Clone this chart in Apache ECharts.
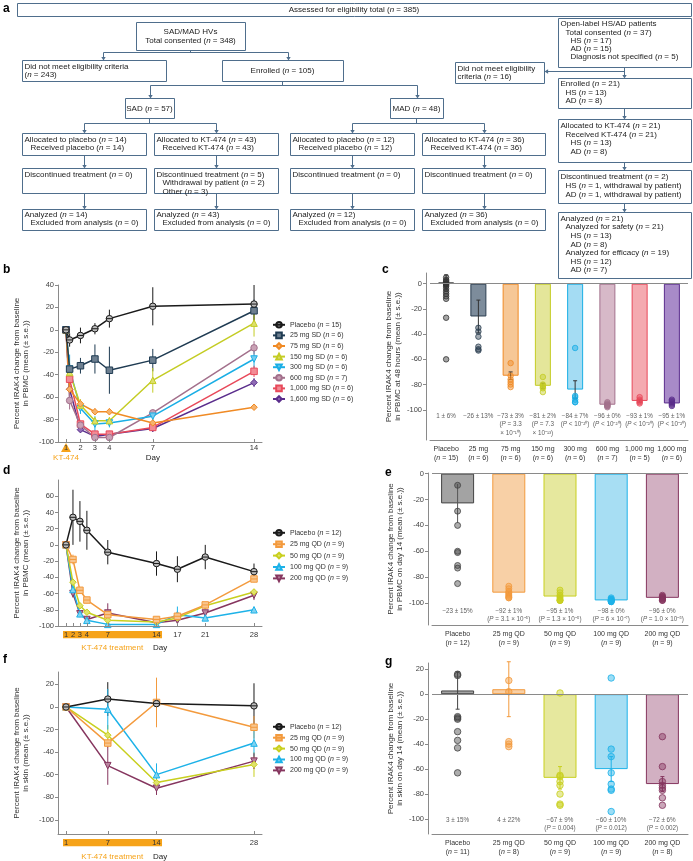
<!DOCTYPE html>
<html>
<head>
<meta charset="utf-8">
<script src="https://cdn.jsdelivr.net/npm/echarts@6.0.0/dist/echarts.min.js"></script>
<style>
html,body{margin:0;padding:0;background:#ffffff;}
#chart{width:693px;height:861px;}
</style>
</head>
<body>
<div id="chart"></div>
<script>
// ================= DATA =================
// Panel b: single dose, PBMC (day 1 = dosing)
const bDays = [1, 1.25, 2, 3, 4, 7, 14];
const bTicks = [1, 2, 3, 4, 7, 14];
const bNames = ['Placebo (n = 15)', '25 mg SD (n = 6)', '75 mg SD (n = 6)', '150 mg SD (n = 6)', '300 mg SD (n = 6)', '600 mg SD (n = 7)', '1,000 mg SD (n = 6)', '1,600 mg SD (n = 6)'];
const bPlacebo = [0, -9, -5, 1, 10, 21, 23];
const bPlaceboSE = [0, 6, 7, 5, 8, 17, 17];
const b25 = [0, -35, -32, -26, -36, -27, 17];
const b25SE = [0, 5, 7, 13, 21, 10, 10];
const b75 = [0, -53, -66, -73, -73, -83, -69];
const b75SE = [0, 4, 4, 3, 3, 3, 2];
const b150 = [0, -38, -67, -81, -81, -45, 6];
const b150SE = [0, 6, 5, 2, 3, 11, 12];
const b300 = [0, -35, -70, -84, -83, -77, -26];
const b300SE = [0, 13, 5, 7, 4, 4, 8];
const b600 = [0, -63, -85, -96, -96, -74, -16];
const b600SE = [0, 8, 3, 0, 2, 3, 6];
const b1000 = [0, -44, -84, -93, -93, -87, -37];
const b1000SE = [0, 4, 2, 1, 1, 2, 5];
const b1600 = [0, -53, -89, -95, -93, -88, -47];
const b1600SE = [0, 5, 2, 1, 1, 2, 4];

// Panel c: PBMC at 48 h
const cCats = ['Placebo', '25 mg', '75 mg', '150 mg', '300 mg', '600 mg', '1,000 mg', '1,600 mg'];
const cN = [15, 6, 6, 6, 6, 7, 5, 6];
const cMeans = [1, -26, -73, -81, -84, -96, -93, -95];
const cSE = [6, 13, 3, 2, 7, 0, 1, 1];
const cDots = [
  [5, 3, 2, 1, 0, 0, -1, -2, -4, -6, -8, -10, -12, -27, -60],
  [-35, -38, -42, -50, -52, -53],
  [-63, -73, -76, -78, -80, -82],
  [-74, -80, -81, -82, -83, -86],
  [-51, -89, -90, -92, -94, -94],
  [-94, -95, -96, -96, -97, -97, -98],
  [-90, -92, -93, -94, -95],
  [-92, -93, -94, -95, -96, -97]
];
const cText1 = ['1 ± 6%', '−26 ± 13%', '−73 ± 3%', '−81 ± 2%', '−84 ± 7%', '−96 ± 0%', '−93 ± 1%', '−95 ± 1%'];
const cText2 = ['', '', '(P = 3.3\n× 10⁻¹⁰)', '(P = 7.3\n× 10⁻¹³)', '(P < 10⁻²⁰)', '(P < 10⁻²⁰)', '(P < 10⁻²⁰)', '(P < 10⁻²⁰)'];

// Panel d: multiple dose, PBMC
const dDays = [1, 2, 3, 4, 7, 14, 17, 21, 28];
const dTicks = [1, 2, 3, 4, 7, 14, 17, 21, 28];
const qdNames = ['Placebo (n = 12)', '25 mg QD (n = 9)', '50 mg QD (n = 9)', '100 mg QD (n = 9)', '200 mg QD (n = 9)'];
const dPlacebo = [0, 34, 29, 18, -9, -23, -30, -15, -33];
const dPlaceboSE = [0, 34, 25, 24, 15, 15, 16, 15, 10];
const d25 = [0, -18, -56, -68, -86, -92, -88, -74, -42];
const d25SE = [0, 6, 4, 4, 3, 1, 3, 3, 4];
const d50 = [0, -46, -75, -83, -93, -95, -90, -75, -58];
const d50SE = [0, 4, 3, 3, 1, 1, 2, 3, 3];
const d100 = [0, -55, -85, -93, -98, -98, -86, -90, -80];
const d100SE = [0, 5, 3, 2, 1, 0, 10, 2, 2];
const d200 = [0, -60, -85, -92, -84, -96, -93, -84, -62];
const d200SE = [0, 5, 3, 2, 12, 0, 3, 4, 6];

// Panel e: PBMC on day 14
const eCats = ['Placebo', '25 mg QD', '50 mg QD', '100 mg QD', '200 mg QD'];
const eN = [12, 9, 9, 9, 9];
const eMeans = [-23, -92, -95, -98, -96];
const eSE = [15, 1, 1, 0, 0];
const eDots = [
  [-9, -29, -40, -60, -61, -71, -73, -85],
  [-87, -89, -91, -92, -93, -94, -95, -96, -96],
  [-90, -92, -94, -95, -96, -97, -98, -98, -98],
  [-96, -97, -97, -98, -98, -98, -99, -99, -99],
  [-94, -95, -95, -96, -96, -97, -97, -98, -98]
];
const eText1 = ['−23 ± 15%', '−92 ± 1%', '−95 ± 1%', '−98 ± 0%', '−96 ± 0%'];
const eText2 = ['', '(P = 3.1 × 10⁻⁵)', '(P = 1.3 × 10⁻⁵)', '(P = 6 × 10⁻⁷)', '(P = 1.0 × 10⁻⁵)'];

// Panel f: skin
const fDays = [1, 7, 14, 28];
const fTicks = [1, 7, 14, 28];
const fPlacebo = [0, 7, 3, 1];
const fPlaceboSE = [0, 15, 15, 20];
const f25 = [0, -32, 4, -18];
const f25SE = [0, 4, 22, 10];
const f50 = [0, -25, -67, -51];
const f50SE = [0, 9, 9, 11];
const f100 = [0, -2, -60, -32];
const f100SE = [0, 18, 10, 12];
const f200 = [0, -52, -72, -48];
const f200SE = [0, 17, 6, 7];

// Panel g: skin on day 14
const gN = [11, 8, 9, 9, 8];
const gMeans = [3, 4, -67, -60, -72];
const gSE = [15, 22, 9, 10, 6];
const gDots = [
  [16, 15, -18, -19, -20, -30, -37, -43, -63],
  [11, 2, -38, -40, -42],
  [1, -65, -66, -70, -73, -80, -88, -89],
  [13, -44, -50, -63, -72, -76, -77, -94],
  [-34, -58, -70, -73, -75, -77, -83, -89]
];
const gText1 = ['3 ± 15%', '4 ± 22%', '−67 ± 9%', '−60 ± 10%', '−72 ± 6%'];
const gText2 = ['', '', '(P = 0.004)', '(P = 0.012)', '(P = 0.002)'];

// ================= STYLES =================
const FONT = '"Liberation Sans", Arial, Helvetica, sans-serif';
const FB = '#4f6e8c';
const ORANGE = '#f6a31a';
const FC_FS = 8;
const SYM_PLA = 'path://M0,5A5,5,0,1,1,10,5A5,5,0,1,1,0,5ZM0,5L10,5';
const SYM_SQL = 'path://M0,0L10,0L10,10L0,10ZM0,5L10,5';
const SYM_TRD = 'path://M0,0L10,0L5,9Z';
const ST = {
  pla:  {c:'#1a1a1a', f:'#bdbdbd', sym:SYM_PLA},
  s25:  {c:'#1f3b52', f:'#6d7f90', sym:'rect'},
  s75:  {c:'#f08a24', f:'#f6b36d', sym:'diamond'},
  s150: {c:'#c4cc24', f:'#dde06a', sym:'triangle'},
  s300: {c:'#1aaee5', f:'#78cdef', sym:SYM_TRD},
  s600: {c:'#a3708c', f:'#c9a1b5', sym:'circle'},
  s1000:{c:'#e8495a', f:'#f28b95', sym:'rect'},
  s1600:{c:'#5a2d8c', f:'#8f6cb5', sym:'diamond'},
  q25:  {c:'#f39a3d', f:'#f8c58e', sym:SYM_SQL},
  q50:  {c:'#c8cf1e', f:'#e0e36b', sym:'diamond'},
  q100: {c:'#1db2e8', f:'#7fd2f2', sym:'triangle'},
  q200: {c:'#86365f', f:'#b985a0', sym:SYM_TRD}
};
const cFill = ['#9e9e9e', '#7d8c9b', '#f6c796', '#e4e69a', '#a4dcf3', '#d7b9c8', '#f4aab0', '#a88bc8'];
const cLine = ['#333333', '#2b3e50', '#f08a24', '#c4cc24', '#1aaee5', '#a3708c', '#e8495a', '#5a2d8c'];
const qFill = ['#a3a3a3', '#f8d0a6', '#e6e89e', '#a7def3', '#d2b0c2'];
const qLine = ['#444444', '#f39a3d', '#c8cf1e', '#1db2e8', '#86365f'];

const it = s => s.replace(/(^|[\s(])(n|P)(?= [=<])/g, '$1{i|$2}');
const richL = fs => ({i:{fontStyle:'italic', fontSize:fs, fontFamily:FONT}});
const richG = (fs, fill) => ({i:{fontStyle:'italic', fontSize:fs, fontFamily:FONT, fill:fill}});
function hexA(h, a){ const n = parseInt(h.slice(1),16); return 'rgba('+((n>>16)&255)+','+((n>>8)&255)+','+(n&255)+','+a+')'; }

// ================= FLOWCHART (graphic) =================
const G = [];
function addBox(b){
  G.push({type:'rect', shape:{x:b.x+0.5, y:b.y+0.5, width:b.w, height:b.h}, style:{fill:'#fff', stroke:FB, lineWidth:1}, z:1});
  const lh = b.lh || 8.5;
  const n = b.lines.length;
  const y0 = b.mid ? b.y + b.h/2 - (n-1)*lh/2 + 0.5 : b.y + (b.t || 6.5);
  b.lines.forEach((ln, i) => {
    G.push({type:'text', x: b.center ? b.x + b.w/2 : b.x + 2.5 + ln[0], y: y0 + i*lh,
      style:{text: it(ln[1]), fontSize:FC_FS, fontFamily:FONT, fill:'#222', align: b.center ? 'center' : 'left', verticalAlign:'middle', rich: richG(FC_FS, '#222')}, z:2});
  });
}
function addLine(x1, y1, x2, y2){ G.push({type:'line', shape:{x1:x1, y1:y1, x2:x2, y2:y2}, style:{stroke:FB, lineWidth:1}, z:1}); }
function arrowDown(x, y1, y2){ addLine(x, y1, x, y2-3); G.push({type:'polygon', shape:{points:[[x-2.2,y2-3.6],[x+2.2,y2-3.6],[x,y2]]}, style:{fill:FB}, z:1}); }
function arrowLeft(x1, x2, y){ addLine(x1, y, x2+3, y); G.push({type:'polygon', shape:{points:[[x2+3.6,y-2.2],[x2+3.6,y+2.2],[x2,y]]}, style:{fill:FB}, z:1}); }

const flowBoxes = [
  {x:17, y:3, w:674, h:13, center:true, mid:true, lines:[[0,'Assessed for eligibility total (n = 385)']]},
  {x:136, y:22, w:109, h:28, center:true, mid:true, lines:[[0,'SAD/MAD HVs'],[0,'Total consented (n = 348)']]},
  {x:22, y:60, w:144, h:21, lines:[[0,'Did not meet eligibility criteria'],[0,'(n = 243)']]},
  {x:222, y:60, w:121, h:21, center:true, mid:true, lines:[[0,'Enrolled (n = 105)']]},
  {x:125, y:98, w:49, h:20, center:true, mid:true, lines:[[0,'SAD (n = 57)']]},
  {x:390, y:98, w:53, h:20, center:true, mid:true, lines:[[0,'MAD (n = 48)']]},
  {x:22, y:133, w:124, h:22, lines:[[0,'Allocated to placebo (n = 14)'],[6,'Received placebo (n = 14)']]},
  {x:154, y:133, w:124, h:22, lines:[[0,'Allocated to KT-474 (n = 43)'],[6,'Received KT-474 (n = 43)']]},
  {x:290, y:133, w:124, h:22, lines:[[0,'Allocated to placebo (n = 12)'],[6,'Received placebo (n = 12)']]},
  {x:422, y:133, w:123, h:22, lines:[[0,'Allocated to KT-474 (n = 36)'],[6,'Received KT-474 (n = 36)']]},
  {x:22, y:168, w:124, h:25, lines:[[0,'Discontinued treatment (n = 0)']]},
  {x:154, y:168, w:124, h:25, lines:[[0,'Discontinued treatment (n = 5)'],[6,'Withdrawal by patient (n = 2)'],[6,'Other (n = 3)']]},
  {x:290, y:168, w:124, h:25, lines:[[0,'Discontinued treatment (n = 0)']]},
  {x:422, y:168, w:123, h:25, lines:[[0,'Discontinued treatment (n = 0)']]},
  {x:22, y:209, w:124, h:21, t:5.5, lines:[[0,'Analyzed (n = 14)'],[6,'Excluded from analysis (n = 0)']]},
  {x:154, y:209, w:124, h:21, t:5.5, lines:[[0,'Analyzed (n = 43)'],[6,'Excluded from analysis (n = 0)']]},
  {x:290, y:209, w:124, h:21, t:5.5, lines:[[0,'Analyzed (n = 12)'],[6,'Excluded from analysis (n = 0)']]},
  {x:422, y:209, w:123, h:21, t:5.5, lines:[[0,'Analyzed (n = 36)'],[6,'Excluded from analysis (n = 0)']]},
  {x:558, y:18, w:133, h:49, t:6, lh:8.3, lines:[[0,'Open-label HS/AD patients'],[5,'Total consented (n = 37)'],[10,'HS (n = 17)'],[10,'AD (n = 15)'],[10,'Diagnosis not specified (n = 5)']]},
  {x:455, y:62, w:89, h:21, lines:[[0,'Did not meet eligibility'],[0,'criteria (n = 16)']]},
  {x:558, y:78, w:133, h:30, t:6, lines:[[0,'Enrolled (n = 21)'],[5,'HS (n = 13)'],[5,'AD (n = 8)']]},
  {x:558, y:119, w:133, h:43, t:7, lines:[[0,'Allocated to KT-474 (n = 21)'],[5,'Received KT-474 (n = 21)'],[10,'HS (n = 13)'],[10,'AD (n = 8)']]},
  {x:558, y:170, w:133, h:33, t:6.5, lh:9, lines:[[0,'Discontinued treatment (n = 2)'],[5,'HS (n = 1, withdrawal by patient)'],[5,'AD (n = 1, withdrawal by patient)']]},
  {x:558, y:212, w:133, h:66, t:6.5, lh:8.6, lines:[[0,'Analyzed (n = 21)'],[5,'Analyzed for safety (n = 21)'],[10,'HS (n = 13)'],[10,'AD (n = 8)'],[5,'Analyzed for efficacy (n = 19)'],[10,'HS (n = 12)'],[10,'AD (n = 7)']]}
];
// connectors
addLine(190.5, 50.5, 190.5, 52.5); addLine(103.5, 52.5, 288.5, 52.5);
arrowDown(103.5, 52.5, 60.5); arrowDown(288.5, 52.5, 60.5);
addLine(282.5, 81.5, 282.5, 85.5); addLine(150.5, 85.5, 417.5, 85.5);
arrowDown(150.5, 85.5, 98.5); arrowDown(417.5, 85.5, 98.5);
addLine(149.5, 118.5, 149.5, 123.5); addLine(84.5, 123.5, 216.5, 123.5);
arrowDown(84.5, 123.5, 133.5); arrowDown(216.5, 123.5, 133.5);
addLine(416.5, 118.5, 416.5, 123.5); addLine(352.5, 123.5, 484.5, 123.5);
arrowDown(352.5, 123.5, 133.5); arrowDown(484.5, 123.5, 133.5);
[84.5, 216.5, 352.5, 484.5].forEach(x => { arrowDown(x, 155.5, 168.5); arrowDown(x, 193.5, 209.5); });
arrowDown(624.5, 67.5, 78.5); arrowLeft(624.5, 544.5, 71.5);
arrowDown(624.5, 108.5, 119.5); arrowDown(624.5, 162.5, 170.5); arrowDown(624.5, 203.5, 212.5);
flowBoxes.forEach(addBox);

// panel letters
[['a',3,9],['b',3,270],['c',382,270],['d',3,471],['e',385,473],['f',3,660],['g',385,662]].forEach(l => {
  G.push({type:'text', x:l[1], y:l[2], style:{text:l[0], fontSize:12, fontWeight:'bold', fontFamily:FONT, fill:'#000', verticalAlign:'middle'}, z:2});
});

// ================= SERIES HELPERS =================
function lineS(grid, name, xs, vals, st){
  return {type:'line', name:name, xAxisIndex:grid, yAxisIndex:grid, data: xs.map((x,i)=>[x, vals[i]]),
    symbol: st.sym, symbolSize: 6.5, showAllSymbol:true, lineStyle:{color:st.c, width:1.5},
    itemStyle:{color:st.f, borderColor:st.c, borderWidth:1}, z:3};
}
// error bars: colour may be a single colour or an array per category
function errS(grid, xs, vals, se, color, cap){
  return {type:'custom', xAxisIndex:grid, yAxisIndex:grid, z:2, silent:true,
    data: xs.map((x,i)=>[x, vals[i]-se[i], vals[i]+se[i], i]).filter(d => d[2] - d[1] > 0),
    encode:{x:0, y:[1,2]},
    renderItem: function(params, api){
      const col = Array.isArray(color) ? color[api.value(3)] : color;
      const a = api.coord([api.value(0), api.value(1)]);
      const b = api.coord([api.value(0), api.value(2)]);
      const ch = [{type:'line', shape:{x1:a[0], y1:a[1], x2:b[0], y2:b[1]}, style:{stroke:col, lineWidth:1}}];
      if (cap) {
        ch.push({type:'line', shape:{x1:a[0]-cap, y1:a[1], x2:a[0]+cap, y2:a[1]}, style:{stroke:col, lineWidth:1}});
        ch.push({type:'line', shape:{x1:b[0]-cap, y1:b[1], x2:b[0]+cap, y2:b[1]}, style:{stroke:col, lineWidth:1}});
      }
      return {type:'group', children:ch};
    }};
}
function barS(grid, means, fills, lines, bw){
  return {type:'bar', xAxisIndex:grid, yAxisIndex:grid, barWidth:bw, z:1,
    data: means.map((v,i)=>({value:v, itemStyle:{color:fills[i], borderColor:lines[i], borderWidth:1}})),
    markLine:{silent:true, symbol:'none', label:{show:false}, data:[{yAxis:0}], lineStyle:{color:'#8a8a8a', width:1, type:'solid'}}};
}
function dotS(grid, dots, lines, size){
  const data = [];
  dots.forEach((arr, i) => arr.forEach(v => data.push({value:[i, v], itemStyle:{color:hexA(lines[i], 0.55), borderColor:lines[i], borderWidth:1}})));
  return {type:'scatter', xAxisIndex:grid, yAxisIndex:grid, symbolSize:size, z:4, data:data};
}
function txtS(grid, t1, t2, yv, fs, lh){
  return {type:'scatter', xAxisIndex:grid, yAxisIndex:grid, symbolSize:0.1, z:5, silent:true,
    itemStyle:{color:'transparent'},
    data: t1.map((t,i)=>[i, yv]),
    label:{show:true, position:[0,0], align:'center', verticalAlign:'top', fontSize:fs, lineHeight:lh, color:'#333', fontFamily:FONT,
      rich: {i:{fontStyle:'italic', fontSize:fs, lineHeight:lh, fontFamily:FONT, color:'#333'}},
      formatter: p => it(t1[p.dataIndex] + (t2[p.dataIndex] ? '\n' + t2[p.dataIndex] : ''))}};
}

// ================= AXES =================
const AX = '#8a8a8a';
const tickLab = {fontSize:7.5, color:'#444', fontFamily:FONT};
function yVal(grid, min, max, ticks, name, gap, offset){
  return {type:'value', gridIndex:grid, min:min, max:max, offset:offset||0,
    axisLine:{show:true, onZero:false, lineStyle:{color:AX}}, axisTick:{show:true, length:3, lineStyle:{color:AX}, customValues:ticks},
    axisLabel:Object.assign({customValues:ticks, margin:4}, tickLab), splitLine:{show:false},
    name:name, nameLocation:'middle', nameRotate:90, nameGap:gap,
    nameTextStyle:{fontSize:8, color:'#333', lineHeight:9, fontFamily:FONT}};
}
function xVal(grid, min, max, ticks, margin){
  return {type:'value', gridIndex:grid, min:min, max:max, z:10,
    axisLine:{show:true, onZero:false, lineStyle:{color:AX}}, axisTick:{show:true, inside:true, length:3, lineStyle:{color:AX}, customValues:ticks},
    axisLabel:{customValues:ticks, margin:margin, color:'#333', fontSize:7.5, fontFamily:FONT}, splitLine:{show:false}};
}
function xCat(grid, cats, ns){
  return {type:'category', gridIndex:grid, data:cats.map((c,i)=>c+'\n(n = '+ns[i]+')'),
    axisLine:{show:true, onZero:false, lineStyle:{color:AX}}, axisTick:{show:false},
    axisLabel:{interval:0, margin:5, fontSize:7, lineHeight:9, color:'#333', fontFamily:FONT, formatter: v => it(v), rich: richL(7)}};
}
const NAME1 = 'Percent IRAK4 change from baseline\n';
const yT6 = [-100, -80, -60, -40, -20, 0];

const option = {
  animation:false,
  backgroundColor:'#ffffff',
  textStyle:{fontFamily:FONT},
  grid:[
    {left:58, top:285, width:204, height:157},
    {left:430, top:273, width:258, height:167},
    {left:58, top:480, width:204, height:146},
    {left:432, top:473, width:256, height:152},
    {left:58, top:672, width:204, height:162},
    {left:432, top:663, width:256, height:171}
  ],
  xAxis:[
    xVal(0, 0.447, 14.55, bTicks, 2),
    xCat(1, cCats, cN),
    xVal(2, -0.149, 29.15, dTicks, 4.5),
    xCat(3, eCats, eN),
    xVal(4, -0.149, 29.15, fTicks, 5),
    xCat(5, eCats, gN)
  ],
  yAxis:[
    yVal(0, -100, 40, [-100,-80,-60,-40,-20,0,20,40], NAME1+'in PBMC (mean (± s.e.))', 28),
    yVal(1, -124, 8.5, yT6, NAME1+'in PBMC at 48 hours (mean (± s.e.))', 24, 4),
    yVal(2, -100, 80, [-100,-80,-60,-40,-20,0,20,40,60], NAME1+'in PBMC (mean (± s.e.))', 28),
    yVal(3, -117, 0.5, yT6, NAME1+'in PBMC on day 14 (mean (± s.e.))', 24, 4),
    yVal(4, -112.6, 31, [-100,-80,-60,-40,-20,0,20], NAME1+'in skin (mean (± s.e.))', 28),
    yVal(5, -112, 25, [-100,-80,-60,-40,-20,0,20], NAME1+'in skin on day 14 (mean (± s.e.))', 24, 4)
  ],
  legend:[
    {data:bNames, left:272, top:321, itemGap:3},
    {data:qdNames, left:272, top:529, itemGap:3.8},
    {data:qdNames, left:272, top:723, itemGap:3.3}
  ].map(l => Object.assign(l, {orient:'vertical', itemWidth:12, itemHeight:7, padding:0, selectedMode:false,
      textStyle:{fontSize:7, color:'#333', fontFamily:FONT, rich:richL(7)}, formatter: n => it(n)})),
  graphic:{elements:G},
  series:[]
};

const S = option.series;
// b
const bVals = [bPlacebo, b25, b75, b150, b300, b600, b1000, b1600];
const bSEs = [bPlaceboSE, b25SE, b75SE, b150SE, b300SE, b600SE, b1000SE, b1600SE];
const bSt = [ST.pla, ST.s25, ST.s75, ST.s150, ST.s300, ST.s600, ST.s1000, ST.s1600];
bVals.forEach((v,i)=>S.push(errS(0, bDays, v, bSEs[i], bSt[i].c, 0)));
for (let i = bVals.length-1; i >= 0; i--) S.push(lineS(0, bNames[i], bDays, bVals[i], bSt[i]));
// c
const cIdx = cCats.map((c,i)=>i);
S.push(barS(1, cMeans, cFill, cLine, 16));
S.push(errS(1, cIdx, cMeans, cSE, '#333', 2));
S.push(dotS(1, cDots, cLine, 5.5));
S.push(txtS(1, cText1, cText2, -102, 6.3, 8.3));
// d
const qSt = [ST.pla, ST.q25, ST.q50, ST.q100, ST.q200];
const dVals = [dPlacebo, d25, d50, d100, d200];
const dSEs = [dPlaceboSE, d25SE, d50SE, d100SE, d200SE];
dVals.forEach((v,i)=>S.push(errS(2, dDays, v, dSEs[i], qSt[i].c, 0)));
for (let i = dVals.length-1; i >= 0; i--) S.push(lineS(2, qdNames[i], dDays, dVals[i], qSt[i]));
// e
const eIdx = eCats.map((c,i)=>i);
S.push(barS(3, eMeans, qFill, qLine, 33));
S.push(errS(3, eIdx, eMeans, eSE, '#555', 0));
S.push(dotS(3, eDots, qLine, 6));
S.push(txtS(3, eText1, eText2, -103.2, 6.3, 7.8));
// f
const fVals = [fPlacebo, f25, f50, f100, f200];
const fSEs = [fPlaceboSE, f25SE, f50SE, f100SE, f200SE];
fVals.forEach((v,i)=>S.push(errS(4, fDays, v, fSEs[i], qSt[i].c, 0)));
for (let i = fVals.length-1; i >= 0; i--) S.push(lineS(4, qdNames[i], fDays, fVals[i], qSt[i]));
// g
S.push(barS(5, gMeans, qFill, qLine, 33));
S.push(errS(5, eIdx, gMeans, gSE, qLine, 2));
S.push(dotS(5, gDots, qLine, 6.5));
S.push(txtS(5, gText1, gText2, -97.5, 6.3, 8.3));

const chart = echarts.init(document.getElementById('chart'), null, {renderer:'canvas', width:693, height:861});
chart.setOption(option);

// ================= annotations derived from axes =================
function px(grid, x, y){ return chart.convertToPixel({gridIndex:grid}, [x, y]); }
const A = G.slice();
// b: dosing triangle + labels
(function(){
  const p = px(0, 1, -100), p7 = px(0, 7, -100);
  A.push({type:'polygon', z:0, shape:{points:[[p[0]-5, p[1]+10],[p[0]+5, p[1]+10],[p[0], p[1]+1]]}, style:{fill:ORANGE}});
  A.push({type:'text', x:p[0], y:p[1]+16, style:{text:'KT-474', fontSize:8, fontFamily:FONT, fill:ORANGE, align:'center', verticalAlign:'middle'}});
  A.push({type:'text', x:p7[0], y:p[1]+16, style:{text:'Day', fontSize:8, fontFamily:FONT, fill:'#222', align:'center', verticalAlign:'middle'}});
})();
// d, f: treatment bars under the day axis
[[2, -100, 21.5], [4, -112.6, 22.5]].forEach(cfg => {
  const g = cfg[0];
  const a = px(g, 1, cfg[1]), b = px(g, 14, cfg[1]);
  A.push({type:'rect', z:0, shape:{x:a[0]-3, y:a[1]+5, width:(b[0]+5.5)-(a[0]-3), height:7.3}, style:{fill:ORANGE}});
  A.push({type:'text', x:(a[0]+b[0])/2+1, y:a[1]+cfg[2], style:{text:'KT-474 treatment', fontSize:8, fontFamily:FONT, fill:ORANGE, align:'center', verticalAlign:'middle'}});
  A.push({type:'text', x:b[0]+3.5, y:a[1]+cfg[2], style:{text:'Day', fontSize:8, fontFamily:FONT, fill:'#222', align:'center', verticalAlign:'middle'}});
});
chart.setOption({graphic:{elements:A}});
</script>
</body>
</html>
